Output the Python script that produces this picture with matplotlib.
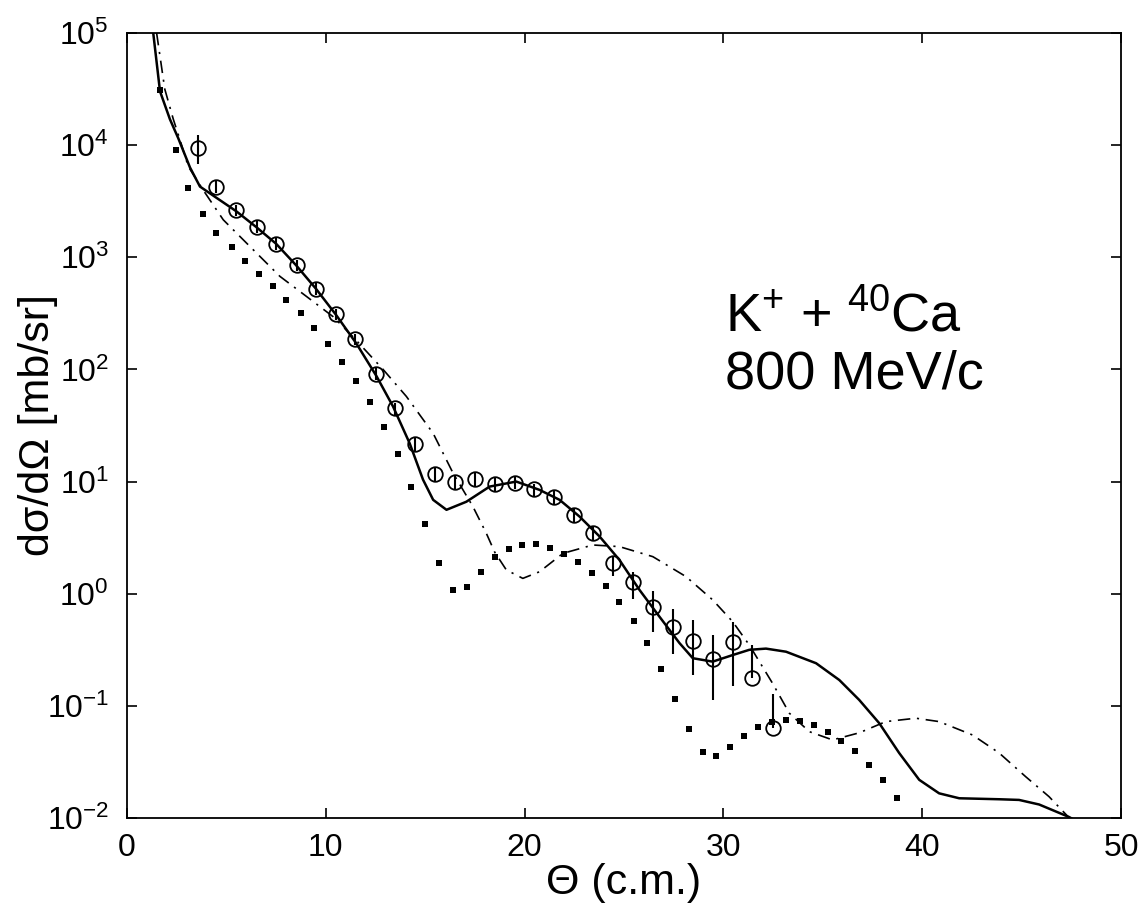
import matplotlib
matplotlib.use("Agg")
import matplotlib.pyplot as plt
from matplotlib.ticker import FixedLocator, NullLocator

plt.rcParams["font.family"] = ["Liberation Sans", "DejaVu Sans"]
plt.rcParams["mathtext.fontset"] = "custom"
plt.rcParams["mathtext.rm"] = "Liberation Sans"
plt.rcParams["mathtext.default"] = "regular"

# measured cross sections (circles with error bars)
data_theta = [3.55, 4.5, 5.5, 6.52, 7.52, 8.53, 9.53, 10.49, 11.49, 12.5,
              13.5, 14.51, 15.5, 16.5, 17.49, 18.5, 19.5, 20.49, 21.46, 22.46,
              23.45, 24.44, 25.44, 26.45, 27.45, 28.46, 29.46, 30.47, 31.42, 32.48]
data_xs = [9400, 4270, 2620, 1880, 1320, 850, 525, 313, 186, 91,
           45, 21.7, 11.7, 10.0, 10.6, 9.5, 9.8, 8.5, 7.3, 5.0,
           3.5, 1.86, 1.27, 0.76, 0.50, 0.38, 0.26, 0.37, 0.176, 0.063]
err_low = [2580, 500, 300, 220, 150, 100, 60, 35, 22, 11,
           5.5, 2.8, 1.5, 1.4, 1.4, 1.2, 1.3, 1.1, 1.0, 0.7,
           0.55, 0.41, 0.38, 0.30, 0.21, 0.19, 0.147, 0.22, 0.0, 0.0]
err_high = [3000, 500, 300, 220, 150, 100, 60, 35, 22, 11,
            5.5, 2.8, 1.5, 1.4, 1.4, 1.2, 1.3, 1.1, 1.0, 0.7,
            0.55, 0.33, 0.30, 0.30, 0.23, 0.20, 0.17, 0.19, 0.174, 0.065]

# full calculation (solid)
solid_theta = [1.32, 1.66, 2.16, 2.58, 3.17, 3.67, 4.5, 5.5, 6.5, 7.5, 8.5, 9.5,
               10.5, 11.54, 12.55, 13.38, 14.22, 14.89, 15.4, 16.07, 17.07, 18.24,
               19.58, 20.75, 21.76, 22.76, 23.77, 24.77, 25.78, 26.78, 27.79, 28.46,
               29.46, 30.47, 31.3, 32.14, 33.15, 34.66, 35.83, 36.83, 37.84, 38.84,
               39.85, 40.85, 41.86, 43.87, 44.87, 45.88, 47.39, 47.7]
solid_xs = [1.0e5, 3.02e4, 1.70e4, 1.15e4, 6.31e3, 4.27e3, 3.39e3, 2.57e3, 1.86e3,
            1.32e3, 851, 525, 309, 170, 87.1, 46.8, 21.9, 10.4, 6.87, 5.60, 6.61,
            9.02, 10.0, 8.43, 6.87, 4.88, 3.24, 2.0, 1.08, 0.625, 0.363, 0.266,
            0.248, 0.284, 0.316, 0.324, 0.304, 0.240, 0.170, 0.113, 0.070, 0.038,
            0.0219, 0.0166, 0.0150, 0.0147, 0.0145, 0.0132, 0.0102, 0.0095]

# dash-dot calculation
dashdot_theta = [1.49, 1.9, 2.33, 2.66, 3.08, 3.83, 4.84, 6.18, 7.69, 9.03, 10.37,
                 11.37, 12.88, 14.05, 15.4, 16.4, 17.4, 18.07, 18.5, 19.08, 19.91,
                 20.75, 21.93, 23.43, 24.77, 26.45, 28.12, 29.46, 30.47, 31.3, 32.48,
                 33.32, 34.32, 35.49, 36.83, 38.17, 39.68, 40.85, 42.53, 43.87, 45.2,
                 46.38, 47.4]
dashdot_xs = [1.0e5, 3.16e4, 1.70e4, 1.12e4, 6.46e3, 3.98e3, 2.16e3, 1.25e3, 676,
              447, 295, 195, 100, 57.5, 26.9, 11.9, 5.98, 3.47, 2.34, 1.63, 1.37,
              1.57, 2.29, 2.72, 2.63, 2.14, 1.42, 0.881, 0.562, 0.349, 0.158,
              0.0859, 0.0589, 0.0497, 0.0575, 0.0724, 0.0776, 0.0724, 0.0550,
              0.0380, 0.0234, 0.0155, 0.0100]

# dotted calculation
dot_theta = [1.66, 2.46, 3.08, 3.80, 4.50, 5.26, 5.93, 6.65, 7.32, 8.02, 8.73,
             9.41, 10.12, 10.82, 11.51, 12.21, 12.91, 13.62, 14.30, 15.01, 15.69,
             16.40, 17.10, 17.79, 18.50, 19.20, 19.88, 20.59, 21.29, 21.98, 22.68,
             23.38, 24.07, 24.77, 25.48, 26.16, 26.87, 27.57, 28.26, 28.96, 29.63,
             30.35, 31.06, 31.76, 32.45, 33.15, 33.85, 34.54, 35.24, 35.93, 36.63,
             37.34, 38.04, 38.73]
dot_xs = [3.09e4, 9.12e3, 4.17e3, 2.45e3, 1.66e3, 1.23e3, 933, 713, 550, 417, 316,
          234, 170, 117, 79.4, 50.7, 30.9, 17.5, 9.02, 4.20, 1.87,
          1.07, 1.14, 1.57, 2.11, 2.51, 2.72, 2.75, 2.57, 2.24, 1.91,
          1.54, 1.17, 0.839, 0.571, 0.363, 0.212, 0.116, 0.0617, 0.0389, 0.0355,
          0.0433, 0.0542, 0.0652, 0.0724, 0.0748, 0.0733, 0.0676, 0.0589, 0.0490, 0.0398,
          0.0297, 0.0219, 0.0150]

x_ticks = [0, 10, 20, 30, 40, 50]
y_ticks = [1e-2, 1e-1, 1e0, 1e1, 1e2, 1e3, 1e4, 1e5]

fig = plt.figure(figsize=(11.41, 9.08), dpi=100)
ax = fig.add_axes([0.1113, 0.0991, 0.8712, 0.8646])

ax.plot(solid_theta, solid_xs, color="black", lw=1.8)
ax.plot(dashdot_theta, dashdot_xs, color="black", lw=1.2,
        linestyle=(0, (7.5, 4, 1.3, 4)))
ax.plot(dot_theta, dot_xs, linestyle="none", marker="s", ms=4.2,
        mfc="black", mec="black", mew=0)
ax.errorbar(data_theta, data_xs, yerr=[err_low, err_high], fmt="o", ms=10.5,
            mfc="none", mec="black", mew=1.3, ecolor="black", elinewidth=1.5,
            capsize=0)

ax.set_yscale("log")
ax.set_xlim(0, 50)
ax.set_ylim(1e-2, 1e5)
ax.xaxis.set_major_locator(FixedLocator(x_ticks))
ax.yaxis.set_major_locator(FixedLocator(y_ticks))
ax.yaxis.set_minor_locator(NullLocator())
ax.tick_params(which="both", direction="in", top=True, right=True,
               length=7.2, width=1.2, labelsize=23)
ax.tick_params(axis="x", pad=11)
ax.tick_params(axis="y", pad=13)
for s in ax.spines.values():
    s.set_linewidth(1.3)

ax.set_xlabel("\u0398 (c.m.)", fontsize=31)
ax.xaxis.set_label_coords(0.5, -0.057)
ax.set_ylabel("d\u03c3/d\u03a9 [mb/sr]", fontsize=31)
ax.yaxis.set_label_coords(-0.069, 0.5)

ax.text(0.6016, 0.620, r"K$^{+}$ + $^{40}$Ca", transform=ax.transAxes,
        fontsize=39, ha="left", va="baseline")
ax.text(0.6016, 0.5465, "800 MeV/c", transform=ax.transAxes,
        fontsize=39, ha="left", va="baseline")

fig.savefig("out.png", dpi=100)
